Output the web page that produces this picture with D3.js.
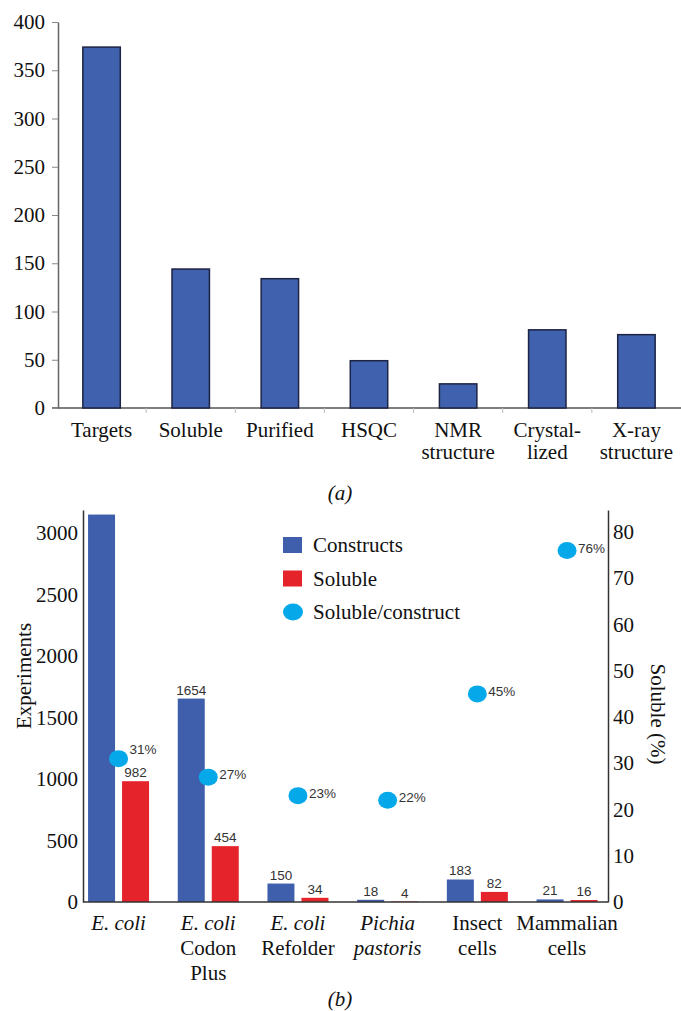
<!DOCTYPE html>
<html><head><meta charset="utf-8">
<script src="https://cdn.jsdelivr.net/npm/d3@7"></script>
<style>body{margin:0;background:#fff}svg{display:block}</style>
</head><body>
<svg id="c" width="681" height="1011"></svg>
<script>
// ---- Panel (a) data ----
const stageLabels = [["Targets"],["Soluble"],["Purified"],["HSQC"],["NMR","structure"],["Crystal-","lized"],["X-ray","structure"]];
const stageCounts = [374,144,134,49,25,81,76];
const stageTicks = [0,50,100,150,200,250,300,350,400];

// ---- Panel (b) data ----
const hostLabels = [
  [[{t:"E. coli",it:true}]],
  [[{t:"E. coli",it:true}],[{t:"Codon"}],[{t:"Plus"}]],
  [[{t:"E. coli",it:true}],[{t:"Refolder"}]],
  [[{t:"Pichia",it:true}],[{t:"pastoris",it:true}]],
  [[{t:"Insect"}],[{t:"cells"}]],
  [[{t:"Mammalian"}],[{t:"cells"}]]
];
const constructs = [3150,1654,150,18,183,21];
const soluble = [982,454,34,4,82,16];
const solublePct = [31,27,23,22,45,76];
const expTicks = [0,500,1000,1500,2000,2500,3000];
const pctTicks = [0,10,20,30,40,50,60,70,80];
const legendItems = ["Constructs","Soluble","Soluble/construct"];

const SERIF = "Liberation Serif, Times New Roman, serif";
const SANS = "Liberation Sans, Arial, sans-serif";
const BLUE = "#3f5fad", RED = "#e4232a", CYAN = "#05a9e9";
const fmt = d3.format("d");

const svg = d3.select("#c");

// ================= Panel (a) =================
const xA = d3.scaleBand().domain(d3.range(stageCounts.length)).range([57,681]).paddingInner(0.58).paddingOuter(0.29);
const yA = d3.scaleLinear().domain([0,400]).range([408,22]);

const gA = svg.append("g");
gA.append("line").attr("x1",52).attr("x2",681).attr("y1",yA(0)).attr("y2",yA(0))
  .attr("stroke","#555").attr("stroke-width",1.5);
gA.selectAll("line.bt").data(d3.range(1,stageCounts.length)).join("line")
  .attr("class","bt")
  .attr("x1",i=>xA(i) - xA.step()*xA.paddingInner()/2)
  .attr("x2",i=>xA(i) - xA.step()*xA.paddingInner()/2)
  .attr("y1",yA(0)).attr("y2",yA(0)+5)
  .attr("stroke","#bbb").attr("stroke-width",1);

gA.selectAll("rect.bar").data(stageCounts).join("rect")
  .attr("class","bar")
  .attr("x",(d,i)=>xA(i)).attr("width",xA.bandwidth())
  .attr("y",d=>yA(d)).attr("height",d=>yA(0)-yA(d))
  .attr("fill","#4062ae").attr("stroke","#1d2342").attr("stroke-width",1.5);

const axA = gA.append("g").attr("transform","translate(58,0)")
  .call(d3.axisLeft(yA).tickValues(stageTicks).tickFormat(fmt).tickSize(6).tickSizeOuter(0).tickPadding(7));
axA.attr("font-family",SERIF);
axA.select(".domain").attr("stroke","#666").attr("stroke-width",1.5);
axA.selectAll(".tick line").attr("stroke","#888");
axA.selectAll(".tick text").attr("font-family",SERIF).attr("font-size",21).attr("fill","#111");

stageLabels.forEach((lines,i)=>{
  const t = gA.append("text").attr("text-anchor","middle")
    .attr("font-family",SERIF).attr("font-size",21).attr("fill","#111");
  lines.forEach((ln,j)=>{
    t.append("tspan").attr("x",xA(i)+xA.bandwidth()/2).attr("y",437+j*22).text(ln);
  });
});
svg.append("text").attr("x",340).attr("y",500).attr("text-anchor","middle")
  .attr("font-family",SERIF).attr("font-size",21).attr("font-style","italic").attr("fill","#111")
  .text("(a)");

// ================= Panel (b) =================
const xB = d3.scaleBand().domain(d3.range(constructs.length)).range([73.7,611.9]);
const xSub = d3.scaleBand().domain([0,1]).range([0,xB.bandwidth()]).paddingInner(0.206).paddingOuter(0.422);
const yL = d3.scaleLinear().domain([0,3187]).range([902,510]);
const yR = d3.scaleLinear().domain([0,84.76]).range([902,510]);

const gB = svg.append("g");
const series = [{vals:constructs,color:BLUE},{vals:soluble,color:RED}];
series.forEach((s,k)=>{
  gB.selectAll("rect.s"+k).data(s.vals).join("rect")
    .attr("class","s"+k)
    .attr("x",(d,i)=>xB(i)+xSub(k)).attr("width",xSub.bandwidth())
    .attr("y",d=>yL(d)).attr("height",d=>yL(0)-yL(d))
    .attr("fill",s.color);
  gB.selectAll("text.v"+k).data(s.vals).join("text")
    .attr("class","v"+k)
    .attr("x",(d,i)=>xB(i)+xSub(k)+xSub.bandwidth()/2)
    .attr("y",d=>yL(d)-4)
    .attr("text-anchor","middle").attr("font-family",SANS).attr("font-size",13.5).attr("fill","#333")
    .text(d=> yL(d)-4 < 525 ? "" : d);
});

gB.append("line").attr("x1",83).attr("x2",608).attr("y1",yL(0)).attr("y2",yL(0))
  .attr("stroke","#333").attr("stroke-width",1.5);
const axL = gB.append("g").attr("transform","translate(83,0)")
  .call(d3.axisLeft(yL).tickValues(expTicks).tickFormat(fmt).tickSize(0).tickSizeOuter(0).tickPadding(5));
axL.attr("font-family",SERIF);
axL.select(".domain").attr("stroke","#333").attr("stroke-width",1.5);
axL.selectAll(".tick text").attr("font-family",SERIF).attr("font-size",21).attr("fill","#111");
const axR = gB.append("g").attr("transform","translate(608,0)")
  .call(d3.axisRight(yR).tickValues(pctTicks).tickFormat(fmt).tickSize(0).tickSizeOuter(0).tickPadding(5));
axR.attr("font-family",SERIF);
axR.select(".domain").attr("stroke","#333").attr("stroke-width",1.5);
axR.selectAll(".tick text").attr("font-family",SERIF).attr("font-size",21).attr("fill","#111");

gB.selectAll("ellipse.p").data(solublePct).join("ellipse")
  .attr("class","p")
  .attr("cx",(d,i)=>xB(i)+xB.bandwidth()/2).attr("cy",d=>yR(d))
  .attr("rx",9.5).attr("ry",8.5).attr("fill",CYAN);
gB.selectAll("text.pl").data(solublePct).join("text")
  .attr("class","pl")
  .attr("x",(d,i)=>xB(i)+xB.bandwidth()/2+11)
  .attr("y",(d,i)=>yR(d)+2-(i===0?7:0))
  .attr("font-family",SANS).attr("font-size",13.5).attr("fill","#333")
  .text(d=>d+"%");

svg.append("text").attr("transform","translate(31,676) rotate(-90)").attr("text-anchor","middle")
  .attr("font-family",SERIF).attr("font-size",21).attr("fill","#111").text("Experiments");
svg.append("text").attr("transform","translate(651,714) rotate(90)").attr("text-anchor","middle")
  .attr("font-family",SERIF).attr("font-size",21).attr("fill","#111").text("Soluble (%)");

const legY = d3.scalePoint().domain(legendItems).range([545,612]);
const lg = svg.append("g");
lg.append("rect").attr("x",283).attr("y",legY(legendItems[0])-8).attr("width",19).attr("height",16).attr("fill",BLUE);
lg.append("rect").attr("x",283).attr("y",legY(legendItems[1])-8).attr("width",19).attr("height",16).attr("fill",RED);
lg.append("ellipse").attr("cx",293).attr("cy",legY(legendItems[2])).attr("rx",10).attr("ry",8.5).attr("fill",CYAN);
lg.selectAll("text").data(legendItems).join("text")
  .attr("x",313).attr("y",d=>legY(d)).attr("dy","0.35em")
  .attr("font-family",SERIF).attr("font-size",21).attr("fill","#111").text(d=>d);

hostLabels.forEach((lines,i)=>{
  const t = gB.append("text").attr("text-anchor","middle")
    .attr("font-family",SERIF).attr("font-size",21).attr("fill","#111");
  lines.forEach((parts,j)=>{
    const ts = t.append("tspan").attr("x",xB(i)+xB.bandwidth()/2).attr("y",930+j*25);
    parts.forEach(p=>{ ts.append("tspan").attr("font-style",p.it?"italic":"normal").text(p.t); });
  });
});
svg.append("text").attr("x",340).attr("y",1006).attr("text-anchor","middle")
  .attr("font-family",SERIF).attr("font-size",21).attr("font-style","italic").attr("fill","#111")
  .text("(b)");
</script>
</body></html>
